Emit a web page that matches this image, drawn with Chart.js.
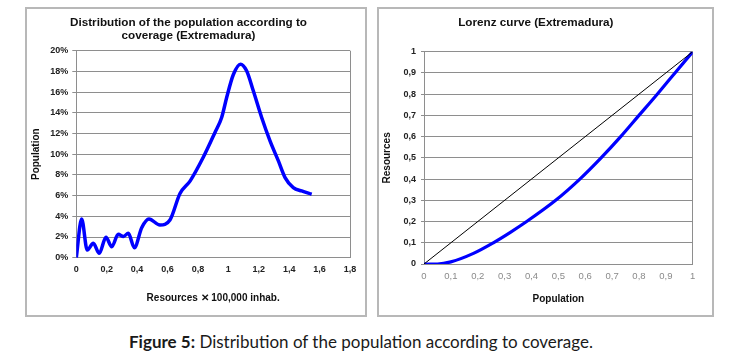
<!DOCTYPE html>
<html><head><meta charset="utf-8">
<script src="https://cdn.jsdelivr.net/npm/chart.js@4.4.0/dist/chart.umd.min.js"></script>
<style>
html,body{margin:0;padding:0;background:#fff}
body{width:740px;height:357px;position:relative;overflow:hidden}
.panel{position:absolute;top:7px;height:306px;border:2px solid #b8b8b8;background:#fff}
#p1{left:25px;width:338px}
#p2{left:377px;width:333px}
canvas{display:block}
#cap{position:absolute;left:0;width:722px;top:331px;text-align:center;font-family:Lato,"Open Sans",sans-serif;font-size:17px;color:#1a1a1a}
</style></head><body>
<div class="panel" id="p1"><canvas id="c1" width="338" height="306"></canvas></div>
<div class="panel" id="p2"><canvas id="c2" width="333" height="306"></canvas></div>
<div id="cap"><b>Figure 5:</b> Distribution of the population according to coverage.</div>
<script>
// Left chart: distribution of population (x: resources per 100,000 inhab., y: % population)
const distX = [0, 0.035, 0.072, 0.112, 0.151, 0.195, 0.233, 0.276, 0.31, 0.342, 0.382, 0.43, 0.478, 0.55, 0.616, 0.682, 0.748, 0.835, 0.912, 0.956, 0.989, 1.033, 1.08, 1.12, 1.164, 1.219, 1.274, 1.329, 1.373, 1.427, 1.482, 1.548];
const distY = [0, 3.74, 0.74, 1.39, 0.42, 1.97, 1.06, 2.26, 2.05, 2.36, 0.97, 2.9, 3.74, 3.16, 3.64, 6.2, 7.4, 9.7, 12.1, 13.55, 15.48, 17.7, 18.7, 18.06, 16.13, 13.55, 11.29, 9.35, 7.74, 6.77, 6.45, 6.13];

// Right chart: Lorenz curve
const lorenzX = [0, 0.05, 0.1, 0.184, 0.258, 0.32, 0.382, 0.49, 0.58, 0.659, 0.732, 0.80, 0.868, 0.934, 1];
const lorenzY = [0, 0, 0.01, 0.05, 0.1, 0.148, 0.2, 0.3, 0.4, 0.5, 0.6, 0.7, 0.8, 0.9, 1];
const equalityX = [0, 1];
const equalityY = [0, 1];

const title1 = ["Distribution of the population according to", "coverage (Extremadura)"];
const title2 = "Lorenz curve (Extremadura)";
const xTitle1 = "Resources \u2715 100,000 inhab.";
const yTitle1 = "Population";
const xTitle2 = "Population";
const yTitle2 = "Resources";

const FF = "'Liberation Sans', Arial, sans-serif";
const GRID = '#8e8e8e';
const comma = v => { const r = Math.round(v * 10) / 10; return String(r).replace('.', ','); };
const pts = (xs, ys) => xs.map((x, i) => ({x: x, y: ys[i]}));

Chart.defaults.font.family = FF;
Chart.defaults.color = '#222';

new Chart(document.getElementById('c1'), {
  type: 'line',
  data: { datasets: [{
    data: pts(distX, distY), borderColor: '#0000ff', borderWidth: 3.5,
    pointRadius: 0, cubicInterpolationMode: 'monotone', fill: false
  }]},
  options: {
    responsive: false, animation: false, devicePixelRatio: 1,
    layout: { padding: { left: 0, right: 15, top: 0, bottom: 0 } },
    plugins: {
      legend: { display: false }, tooltip: { enabled: false },
      title: { display: true, text: title1, color: '#111',
        font: { size: 11.7, weight: 'bold', family: FF, lineHeight: 1.12 },
        padding: { top: 7, bottom: 8.5 } }
    },
    scales: {
      x: { type: 'linear', min: 0, max: 1.8,
        ticks: { stepSize: 0.2, callback: comma, font: { size: 9, weight: 'bold' }, color: '#222', padding: 6, maxRotation: 0 },
        grid: { drawTicks: false, color: c => (c.tick && Math.abs(c.tick.value - 1.8) < 1e-6) ? GRID : 'rgba(0,0,0,0)' },
        border: { display: true, color: GRID, width: 1 },
        title: { display: true, text: xTitle1, font: { size: 10, weight: 'bold' }, color: '#111', padding: { top: 0, bottom: 11 } },
        afterFit: s => { s.height = 57.3; }
      },
      y: { min: 0, max: 20,
        ticks: { stepSize: 2, callback: v => v + '%', font: { size: 9, weight: 'bold' }, color: '#222', padding: 4 },
        grid: { color: GRID, tickLength: 4 },
        border: { display: true, color: GRID, width: 1 },
        title: { display: true, text: yTitle1, font: { size: 10, weight: 'bold' }, color: '#111', padding: { top: 3, bottom: 0 } },
        afterFit: s => { s.width = 49.3; }
      }
    }
  }
});

new Chart(document.getElementById('c2'), {
  type: 'line',
  data: { datasets: [
    { data: pts(equalityX, equalityY), borderColor: '#000', borderWidth: 1, pointRadius: 0, fill: false },
    { data: pts(lorenzX, lorenzY), borderColor: '#0000ff', borderWidth: 3.2, pointRadius: 0, cubicInterpolationMode: 'monotone', fill: false }
  ]},
  options: {
    responsive: false, animation: false, devicePixelRatio: 1,
    layout: { padding: { left: 0, right: 19.3, top: 0, bottom: 0 } },
    plugins: {
      legend: { display: false }, tooltip: { enabled: false },
      title: { display: true, text: title2, color: '#111',
        font: { size: 11.7, weight: 'bold', family: FF, lineHeight: 1.2 },
        padding: { top: 7, bottom: 21.7 } }
    },
    scales: {
      x: { type: 'linear', min: 0, max: 1,
        ticks: { stepSize: 0.1, callback: comma, font: { size: 9.5 }, color: '#8a8a8a', padding: 7, maxRotation: 0 },
        grid: { drawTicks: false, color: c => (c.tick && Math.abs(c.tick.value - 1) < 1e-6) ? GRID : 'rgba(0,0,0,0)' },
        border: { display: true, color: GRID, width: 1 },
        title: { display: true, text: xTitle2, font: { size: 10, weight: 'bold' }, color: '#111', padding: { top: 0, bottom: 10 } },
        afterFit: s => { s.height = 51; }
      },
      y: { min: 0, max: 1,
        ticks: { stepSize: 0.1, callback: comma, font: { size: 9, weight: 'bold' }, color: '#222', padding: 5 },
        grid: { color: GRID, tickLength: 3 },
        border: { display: true, color: GRID, width: 1 },
        title: { display: true, text: yTitle2, font: { size: 10, weight: 'bold' }, color: '#111', padding: { top: 2, bottom: 0 } },
        afterFit: s => { s.width = 45; }
      }
    }
  }
});
</script>
</body></html>
